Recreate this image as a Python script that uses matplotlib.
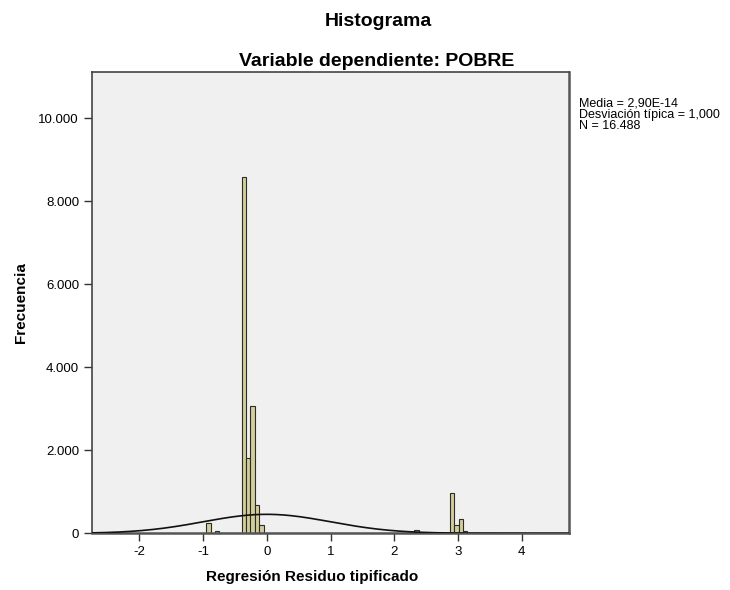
import matplotlib
matplotlib.use("Agg")
import matplotlib.pyplot as plt
from matplotlib.ticker import FuncFormatter
import numpy as np

# datos del histograma (residuos tipificados)
bin_start = -0.952
bin_width = 0.0695
counts = [259, 8, 60, 12, 10, 14, 10, 18, 8579, 1811,
          3078, 670, 205, 0, 0, 0, 0, 0, 0, 0,
          0, 0, 0, 0, 0, 0, 0, 0, 0, 0,
          0, 0, 0, 0, 0, 0, 0, 0, 0, 0,
          0, 0, 0, 0, 0, 0, 0, 84, 0, 0,
          0, 0, 0, 0, 0, 968, 212, 342, 53]
media = 2.90e-14
desv = 1.0
n_total = 16488

x_ticks = [-2, -1, 0, 1, 2, 3, 4]
y_ticks = [0, 2000, 4000, 6000, 8000, 10000]

plt.rcParams['font.family'] = ['Liberation Sans', 'DejaVu Sans']
plt.rcParams['axes.unicode_minus'] = False

fig = plt.figure(figsize=(7.3, 5.9), dpi=100)
ax = fig.add_axes([0.1264, 0.0961, 0.6535, 0.7819])
ax.set_facecolor('#F0F0F0')

edges = bin_start + bin_width * np.arange(len(counts))
ax.bar(edges, counts, width=bin_width, align='edge',
       color='#D3CE97', edgecolor='#2b2b2b', linewidth=0.8, zorder=2)

# curva normal
xs = np.linspace(-2.8, 4.8, 400)
ys = n_total * bin_width * np.exp(-0.5 * ((xs - media) / desv) ** 2) / (desv * np.sqrt(2 * np.pi))
ax.plot(xs, ys, color='#111111', linewidth=1.2, zorder=3)

ax.set_xlim(-2.738, 4.747)
ax.set_ylim(0, 11116)
ax.set_xticks(x_ticks)
ax.set_yticks(y_ticks)
ax.yaxis.set_major_formatter(FuncFormatter(lambda v, p: f"{int(v):,}".replace(",", ".")))
ax.tick_params(axis='both', direction='out', length=6, width=1, colors='#333333',
               labelsize=9.5, labelcolor='black')

for side in ['left', 'top']:
    ax.spines[side].set_color('#444444')
    ax.spines[side].set_linewidth(1.2)
for side in ['right', 'bottom']:
    ax.spines[side].set_color('#555555')
    ax.spines[side].set_linewidth(1.8)

fig.text(378 / 730, 1 - 21 / 590, 'Histograma', ha='center', va='center',
         fontsize=14, fontweight='bold')
fig.text(377 / 730, 1 - 62 / 590, 'Variable dependiente: POBRE', ha='center', va='center',
         fontsize=14, fontweight='bold')
fig.text(312 / 730, 1 - 577 / 590, 'Regresión Residuo tipificado', ha='center', va='center',
         fontsize=11, fontweight='bold')
fig.text(21 / 730, 1 - 303 / 590, 'Frecuencia', ha='center', va='center',
         fontsize=11, fontweight='bold', rotation=90)

stats = "Media = 2,90E-14\nDesviación típica = 1,000\nN = " + f"{n_total:,}".replace(",", ".")
fig.text(579 / 730, 1 - 97 / 590, stats, ha='left', va='top', fontsize=9,
         linespacing=0.95)

fig.savefig('out.png', dpi=100)
